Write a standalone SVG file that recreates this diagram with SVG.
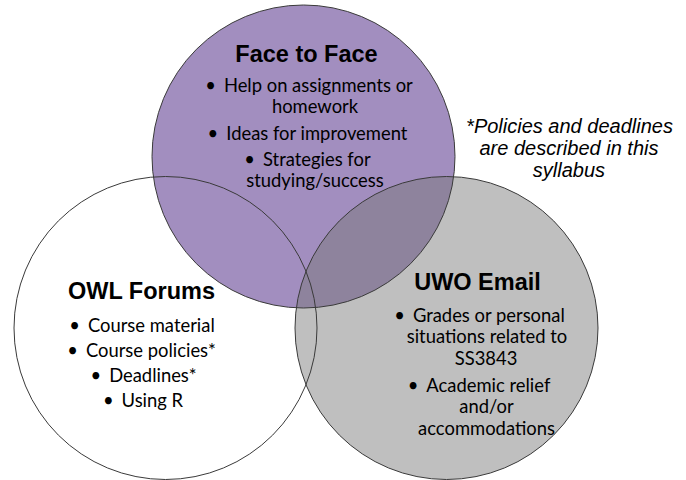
<svg xmlns="http://www.w3.org/2000/svg" width="686" height="480" viewBox="0 0 686 480">
<style>
.title{font-family:"Liberation Sans",Arial,sans-serif;font-weight:bold;font-size:23.5px;fill:#000;text-anchor:middle}
.body{font-family:Lato,"Liberation Sans",sans-serif;font-size:18.4px;fill:#000;text-anchor:middle}
.note{font-family:"Liberation Sans",Arial,sans-serif;font-style:italic;font-size:20px;fill:#000;text-anchor:middle}
.edge{fill:none;stroke:#3a3a3a;stroke-width:1}
</style>
<rect width="686" height="480" fill="#fff"/>
<g id="fills">
<circle cx="165.5" cy="328" r="151.5" fill="#fff"/>
<circle cx="303.5" cy="156.5" r="151.5" fill="#a28ebf"/>
<circle cx="446.5" cy="328" r="151.5" fill="#787878" fill-opacity="0.47"/>
</g>
<g id="connectors"></g>
<g id="outlines">
<circle class="edge" cx="165.5" cy="328" r="151.5"/>
<circle class="edge" cx="303.5" cy="156.5" r="151.5"/>
<circle class="edge" cx="446.5" cy="328" r="151.5"/>
</g>
<g id="face-to-face">
<text class="title" x="306.5" y="62">Face to Face</text>
<text class="body" x="309" y="92">•<tspan dx="8">Help on assignments or</tspan></text>
<text class="body" x="315" y="113">homework</text>
<text class="body" x="307.5" y="140">•<tspan dx="8">Ideas for improvement</tspan></text>
<text class="body" x="307.5" y="166">•<tspan dx="8">Strategies for</tspan></text>
<text class="body" x="315" y="187">studying/success</text>
</g>
<g id="owl-forums">
<text class="title" x="141.5" y="299">OWL Forums</text>
<text class="body" x="142" y="332">•<tspan dx="8">Course material</tspan></text>
<text class="body" x="141.5" y="357">•<tspan dx="8">Course policies*</tspan></text>
<text class="body" x="143.5" y="382">•<tspan dx="8">Deadlines*</tspan></text>
<text class="body" x="143" y="407">•<tspan dx="8">Using R</tspan></text>
</g>
<g id="uwo-email">
<text class="title" x="477.5" y="290">UWO Email</text>
<text class="body" x="479.5" y="322">•<tspan dx="8">Grades or personal</tspan></text>
<text class="body" x="487" y="343">situations related to</text>
<text class="body" x="486" y="365">SS3843</text>
<text class="body" x="479" y="392">•<tspan dx="8">Academic relief</tspan></text>
<text class="body" x="486.5" y="413">and/or</text>
<text class="body" x="486.5" y="435">accommodations</text>
</g>
<g id="note">
<text class="note" x="569.5" y="133">*Policies and deadlines</text>
<text class="note" x="569" y="155">are described in this</text>
<text class="note" x="569" y="177">syllabus</text>
</g>
</svg>
